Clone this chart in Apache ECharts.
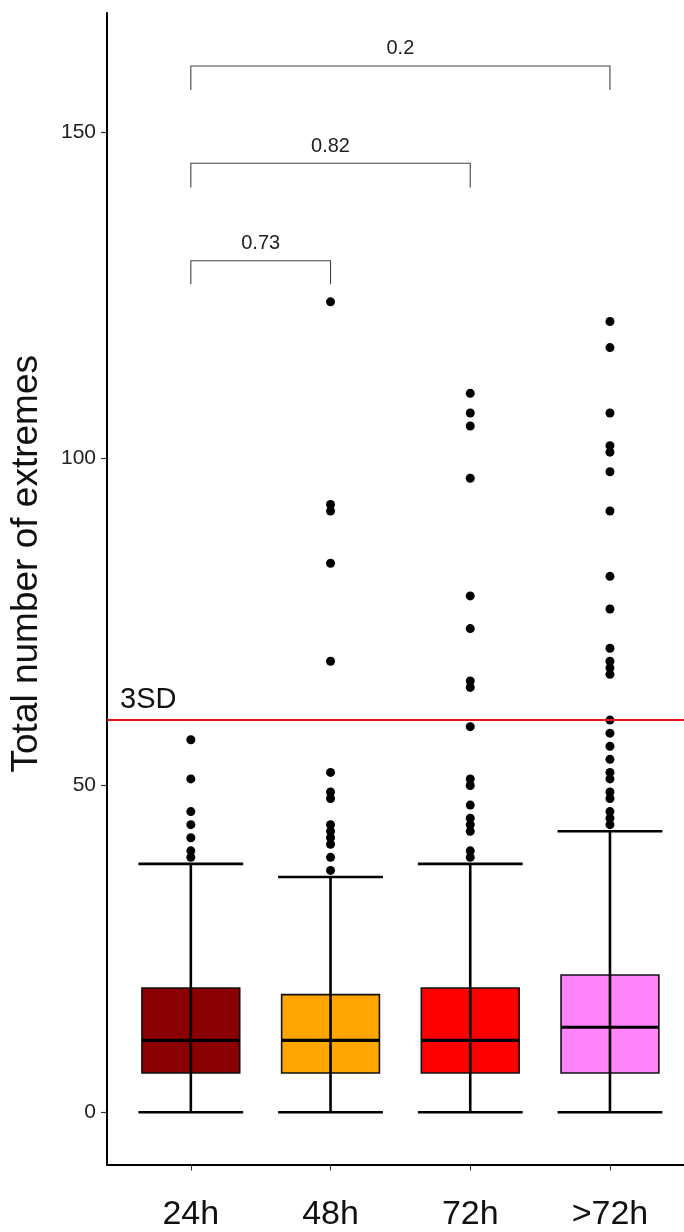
<!DOCTYPE html>
<html>
<head>
<meta charset="utf-8">
<script src="https://cdn.jsdelivr.net/npm/echarts@6/dist/echarts.min.js"></script>
<style>html,body{margin:0;padding:0;background:#fff;}#c{width:684px;height:1232px;}</style>
</head>
<body>
<div id="c"></div>
<script>
// ---- data ----
const categories = ['24h', '48h', '72h', '>72h'];
const whiskerLow = [0, 0, 0, 0];
const q1 = [6, 6, 6, 6];
const median = [11, 11, 11, 13];
const q3 = [19, 18, 19, 21];
const whiskerHigh = [38, 36, 38, 43];
const outliers24h = [57, 51, 46, 44, 42, 40, 39];
const outliers48h = [124, 93, 92, 84, 69, 52, 49, 48, 44, 43, 42, 41, 39, 37];
const outliers72h = [110, 107, 105, 97, 79, 74, 66, 65, 59, 51, 50, 47, 45, 44, 43, 40, 39];
const outliersOver72h = [121, 117, 107, 102, 101, 98, 92, 82, 77, 71, 69, 68, 67, 60, 58, 56, 54, 52, 51, 49, 48, 46, 45, 44];
const threshold = 60;
const thresholdLabel = '3SD';
const compFrom = [1, 1, 1];
const compTo = [2, 3, 4];
const compTop = [130.3, 145.2, 160.1];
const compTipBottom = [126.7, 141.5, 156.4];
const compLabels = ['0.73', '0.82', '0.2'];
const yTickValues = [0, 50, 100, 150];
const yTitle = 'Total number of extremes';

// ---- styles ----
const boxColors = ['#8B0000', '#FFA500', '#FF0000', '#FF83FA'];
const FONT = "'Liberation Sans', Arial, Helvetica, sans-serif";

const boxData = categories.map((c, i) => [i + 1, whiskerLow[i], q1[i], median[i], q3[i], whiskerHigh[i]]);
const outlierGroups = [outliers24h, outliers48h, outliers72h, outliersOver72h];
const pointData = [];
outlierGroups.forEach((arr, i) => arr.forEach(v => pointData.push([i + 1, v])));
const compData = compLabels.map((l, i) => [compFrom[i], compTo[i], compTop[i], compTipBottom[i], l]);

function renderBox(params, api) {
  const x = api.value(0);
  const lo = api.coord([x, api.value(1)]);
  const b1 = api.coord([x, api.value(2)]);
  const md = api.coord([x, api.value(3)]);
  const b3 = api.coord([x, api.value(4)]);
  const hi = api.coord([x, api.value(5)]);
  const bw = api.size([0.7, 0])[0];
  const cw = api.size([0.75, 0])[0];
  const cx = lo[0];
  const stroke = '#000';
  return {
    type: 'group',
    children: [
      { type: 'rect', shape: { x: cx - bw / 2, y: b3[1], width: bw, height: b1[1] - b3[1] },
        style: { fill: boxColors[params.dataIndex], stroke: '#111', lineWidth: 1.6 } },
      { type: 'line', shape: { x1: cx, y1: lo[1], x2: cx, y2: hi[1] }, style: { stroke: stroke, lineWidth: 2.6 } },
      { type: 'line', shape: { x1: cx - cw / 2, y1: lo[1], x2: cx + cw / 2, y2: lo[1] }, style: { stroke: stroke, lineWidth: 2.6 } },
      { type: 'line', shape: { x1: cx - cw / 2, y1: hi[1], x2: cx + cw / 2, y2: hi[1] }, style: { stroke: stroke, lineWidth: 2.6 } },
      { type: 'line', shape: { x1: cx - bw / 2, y1: md[1], x2: cx + bw / 2, y2: md[1] }, style: { stroke: stroke, lineWidth: 3.2 } }
    ]
  };
}

function renderComp(params, api) {
  const a = api.coord([api.value(0), api.value(2)]);
  const b = api.coord([api.value(1), api.value(2)]);
  const ab = api.coord([api.value(0), api.value(3)]);
  const bb = api.coord([api.value(1), api.value(3)]);
  const label = compData[params.dataIndex][4];
  return {
    type: 'group',
    children: [
      { type: 'polyline', shape: { points: [[ab[0], ab[1]], [a[0], a[1]], [b[0], b[1]], [bb[0], bb[1]]] },
        style: { stroke: '#444', lineWidth: 1.1, fill: null } },
      { type: 'text', style: { text: label, x: (a[0] + b[0]) / 2, y: a[1] - 7, align: 'center', verticalAlign: 'bottom',
        fontSize: 20, fontFamily: FONT, fill: '#222' } }
    ]
  };
}

const chart = echarts.init(document.getElementById('c'), null, { renderer: 'canvas' });
chart.setOption({
  backgroundColor: '#fff',
  animation: false,
  grid: { left: 107, right: 0, top: 13, bottom: 67.5, containLabel: false, outerBoundsMode: 'none' },
  xAxis: {
    type: 'value', min: 0.4, max: 4.53,
    splitLine: { show: false },
    axisLine: { show: true, onZero: false, lineStyle: { color: '#000', width: 2 } },
    axisTick: { show: true, customValues: [1, 2, 3, 4], length: 6, lineStyle: { color: '#333', width: 1 } },
    axisLabel: { customValues: [1, 2, 3, 4], formatter: v => categories[Math.round(v) - 1], margin: 33,
      fontSize: 34, fontFamily: FONT, color: '#111' }
  },
  yAxis: {
    type: 'value', min: -8, max: 168.2,
    name: yTitle, nameLocation: 'middle', nameGap: 62, nameRotate: 90,
    nameTextStyle: { fontSize: 37, fontFamily: FONT, color: '#111', padding: [0, 0, 0, 50] },
    splitLine: { show: false },
    axisLine: { show: true, onZero: false, lineStyle: { color: '#000', width: 2 } },
    axisTick: { show: true, customValues: yTickValues, length: 6, lineStyle: { color: '#333', width: 1.2 } },
    axisLabel: { customValues: yTickValues, margin: 11, fontSize: 21, fontFamily: FONT, color: '#222' }
  },
  series: [
    {
      type: 'custom', name: 'box', renderItem: renderBox, data: boxData,
      encode: { x: 0, y: [1, 2, 3, 4, 5] }, z: 2, silent: true
    },
    {
      type: 'scatter', name: 'outliers', data: pointData, symbol: 'circle', symbolSize: 9,
      itemStyle: { color: '#000', opacity: 1 }, z: 3, silent: true,
      markLine: {
        silent: true, symbol: 'none', animation: false,
        lineStyle: { color: '#E8141C', width: 2, type: 'solid' },
        label: { show: true, formatter: thresholdLabel, position: 'insideStartTop', distance: [13, 6],
          fontSize: 29, fontFamily: FONT, color: '#111' },
        data: [{ yAxis: threshold }]
      }
    },
    {
      type: 'custom', name: 'comparisons', renderItem: renderComp, data: compData,
      encode: { x: [0, 1], y: [2, 3] }, z: 4, silent: true
    }
  ]
});
</script>
</body>
</html>
